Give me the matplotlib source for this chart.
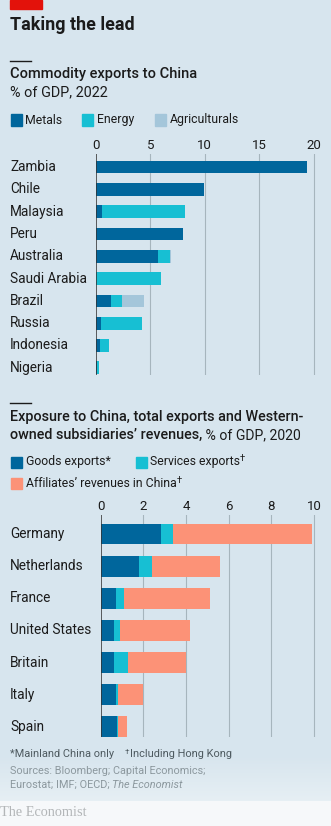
import numpy as np
import matplotlib
matplotlib.use('Agg')
import matplotlib.pyplot as plt
from matplotlib.patches import Rectangle
from matplotlib.colors import to_rgb

plt.rcParams['font.family'] = ['Roboto', 'DejaVu Sans']

W, H = 331, 826
BG = '#d7e5ee'
DARK = '#1b1b1b'
GREY = '#4e5a60'
LIGHT = '#8c989e'
GRID = '#a6b5bd'
METALS = '#00669c'
ENERGY = '#17bfd3'
AGRI = '#a4c6da'
AFFIL = '#fc9277'

# Commodity exports to China, % of GDP, 2022
commodity_countries = ['Zambia', 'Chile', 'Malaysia', 'Peru', 'Australia',
                       'Saudi Arabia', 'Brazil', 'Russia', 'Indonesia',
                       'Nigeria']
metals = [19.4, 9.9, 0.6, 8.0, 5.7, 0.0, 1.4, 0.45, 0.35, 0.1]
energy = [0.0, 0.0, 7.6, 0.0, 1.1, 6.0, 1.0, 3.8, 0.85, 0.17]
agriculturals = [0.0, 0.0, 0.0, 0.0, 0.1, 0.0, 2.0, 0.0, 0.0, 0.0]
commodity_ticks = [0, 5, 10, 15, 20]

# Exposure to China, % of GDP, 2020
exposure_countries = ['Germany', 'Netherlands', 'France', 'United States',
                      'Britain', 'Italy', 'Spain']
goods = [2.83, 1.81, 0.72, 0.62, 0.62, 0.72, 0.75]
services = [0.57, 0.59, 0.38, 0.28, 0.68, 0.08, 0.08]
affiliates = [6.5, 3.2, 4.02, 3.3, 2.7, 1.2, 0.39]
exposure_ticks = [0, 2, 4, 6, 8, 10]

LABEL_SIZE = 9.8
TICK_SIZE = 9.5

fig = plt.figure(figsize=(W / 100, H / 100), dpi=100)
fig.patch.set_facecolor('white')

# background with the light fade at the bottom
bg_ax = fig.add_axes([0, 0, 1, 1], zorder=-10)
rows = np.arange(H)
t = np.clip((rows - 755) / 45.0, 0, 1)[:, None]
c0, c1 = np.array(to_rgb(BG)), np.array(to_rgb('#e6eff4'))
grad = c0 * (1 - t) + c1 * t
grad[rows > 800] = to_rgb('#f6f8fa')
bg_ax.imshow(grad[:, None, :], extent=[0, W, H, 0], aspect='auto')
bg_ax.set_xlim(0, W)
bg_ax.set_ylim(H, 0)
bg_ax.axis('off')


def fx(x):
    return x / W


def fy(y):
    return 1 - y / H


def text(x, y, s, **kw):
    kw.setdefault('va', 'center')
    kw.setdefault('ha', 'left')
    return fig.text(fx(x), fy(y), s, **kw)


def text_after(prev, s, gap=0, dy=0, **kw):
    fig.canvas.draw()
    bb = prev.get_window_extent()
    x = bb.x1 + gap
    y = H - (bb.y0 + bb.y1) / 2 + dy
    return text(x, y, s, **kw)


def square(x, y, color, size=11):
    fig.patches.append(Rectangle((fx(x), fy(y + size / 2)), size / W, size / H,
                                 transform=fig.transFigure, color=color,
                                 figure=fig))


def rule(x0, x1, y, lw=1.0):
    fig.lines.append(plt.Line2D([fx(x0), fx(x1)], [fy(y), fy(y)],
                                transform=fig.transFigure, color=DARK, lw=lw))


# header
fig.patches.append(Rectangle((fx(10), fy(9)), 32 / W, 9 / H,
                             transform=fig.transFigure, color='#e3120b',
                             figure=fig))
text(10, 24.5, 'Taking the lead', fontsize=12.9, fontweight='bold', color=DARK)

# first panel titles
rule(10, 31, 61)
text(10, 74, 'Commodity exports to China', fontsize=10.5,
     fontweight='medium', color=DARK)
text(10, 92, '% of GDP, 2022', fontsize=10.4, color=DARK)

square(11, 120, METALS)
text(25.5, 120, 'Metals', fontsize=8.8, color=DARK)
square(82, 120, ENERGY)
text(96.5, 120, 'Energy', fontsize=8.8, color=DARK)
square(155, 120, AGRI)
text(170, 120, 'Agriculturals', fontsize=8.8, color=DARK)


def panel(left, top, right, bottom, x_end_px, x_end_val, y_lo, y_hi):
    ax = fig.add_axes([fx(left), fy(bottom), (right - left) / W,
                       (bottom - top) / H])
    ax.set_facecolor('none')
    ax.set_xlim(0, x_end_val * (right - left) / (x_end_px - left))
    ax.set_ylim(y_lo, y_hi)
    for s in ax.spines.values():
        s.set_visible(False)
    ax.xaxis.tick_top()
    ax.tick_params(axis='x', length=0, pad=1.2, labelsize=TICK_SIZE,
                   labelcolor=DARK)
    ax.set_yticks([])
    return ax


# first panel
ax1 = panel(95.7, 153.6, 320, 374.5, 314, 20, 9.3, -0.6)
y1 = np.arange(len(commodity_countries))
for v in commodity_ticks[1:]:
    ax1.axvline(v, color=GRID, lw=0.8, zorder=0)
ax1.set_xticks(commodity_ticks)
left = np.zeros(len(y1))
for vals, col in [(metals, METALS), (energy, ENERGY), (agriculturals, AGRI)]:
    ax1.barh(y1, vals, left=left, height=0.57, color=col, zorder=2)
    left = left + np.array(vals)
ax1.axvline(0, color='#333333', lw=1.1, zorder=3)
for yi, name in zip(y1, commodity_countries):
    ax1.text((10 - 95.7) / (320 - 95.7), yi, name,
             transform=ax1.get_yaxis_transform(), ha='left', va='center',
             fontsize=LABEL_SIZE, color=DARK)

# second panel titles
rule(10, 31, 403)
text(10, 417, 'Exposure to China, total exports and Western-',
     fontsize=10.4, fontweight='medium', color=DARK)
t1 = text(10, 435, 'owned subsidiaries\u2019 revenues,', fontsize=10.4,
          fontweight='medium', color=DARK)
text_after(t1, ' % of GDP, 2020', fontsize=10.1, color=DARK)

square(11, 462, METALS)
t2 = text(25.5, 462, 'Goods exports*', fontsize=8.8, color=DARK)
square(136, 462, ENERGY)
t3 = text(149.5, 462, 'Services exports', fontsize=8.8, color=DARK)
text_after(t3, '\u2020', dy=-3, fontsize=6.8, color=DARK)
square(11, 483.5, AFFIL)
t4 = text(25.5, 483.5, 'Affiliates\u2019 revenues in China', fontsize=8.8,
          color=DARK)
text_after(t4, '\u2020', dy=-3, fontsize=6.8, color=DARK)

# second panel
ax2 = panel(100.7, 514.7, 320, 736.5, 314, 10, 6.3, -0.6)
y2 = np.arange(len(exposure_countries))
for v in exposure_ticks[1:]:
    ax2.axvline(v, color=GRID, lw=0.8, zorder=0)
ax2.set_xticks(exposure_ticks)
left = np.zeros(len(y2))
for vals, col in [(goods, METALS), (services, ENERGY), (affiliates, AFFIL)]:
    ax2.barh(y2, vals, left=left, height=0.65, color=col, zorder=2)
    left = left + np.array(vals)
ax2.axvline(0, color='#333333', lw=1.1, zorder=3)
for yi, name in zip(y2, exposure_countries):
    ax2.text((10 - 100.7) / (320 - 100.7), yi, name,
             transform=ax2.get_yaxis_transform(), ha='left', va='center',
             fontsize=LABEL_SIZE, color=DARK)

# footnotes
f1 = text(10, 754, '*Mainland China only', fontsize=7.9, color=GREY)
f2 = text_after(f1, '    ', fontsize=7.9, color=GREY)
f3 = text_after(f2, '\u2020', dy=-2.5, fontsize=5.9, color=GREY)
text_after(f3, 'Including Hong Kong', dy=2.5, fontsize=7.9, color=GREY)
text(10, 771, 'Sources: Bloomberg; Capital Economics;', fontsize=7.8,
     color=LIGHT)
s1 = text(10, 785, 'Eurostat; IMF; OECD; ', fontsize=7.8, color=LIGHT)
text_after(s1, 'The Economist', fontsize=7.8, color=LIGHT, style='italic')

text(0, 813, 'The Economist', fontsize=10.3, color='#b3b6b8',
     family='Liberation Serif')

fig.savefig('out.png', dpi=100, facecolor=fig.get_facecolor())
